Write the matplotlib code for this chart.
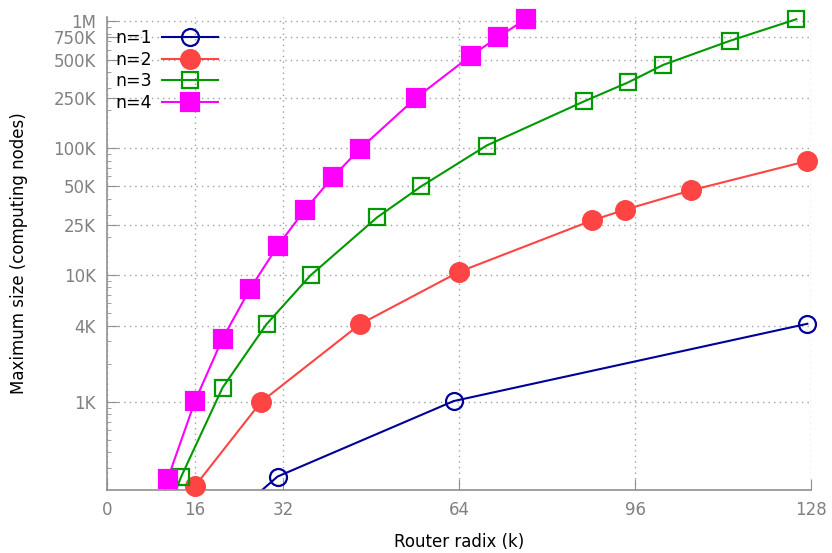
import matplotlib
matplotlib.use("Agg")
import matplotlib.pyplot as plt
from matplotlib.ticker import FixedLocator, LogLocator, NullFormatter

# radix k vs. max size; first point of n=1,3,4 lies below the visible range
k1 = [15, 31, 63, 127.3]
s1 = [64, 258, 1015, 4130]

k2 = [16, 28, 46, 64, 88.2, 94.2, 106.2, 127.3]
s2 = [217, 1000, 4100, 10600, 27000, 32800, 46600, 79300]

k3 = [5, 13.5, 21, 29, 37, 49.1, 57.1, 69, 86.7, 94.7, 101.1, 113.2, 125.3]
s3 = [30, 258, 1294, 4100, 9950, 28500, 50000, 105000, 234000, 330000,
      454000, 702000, 1040000]

k4 = [5, 11, 16, 21, 26, 31, 36, 41, 46, 56.1, 66.1, 71.1, 76.1]
s4 = [20, 245, 1015, 3150, 7780, 16900, 32800, 58900, 99100, 248000,
      535000, 752000, 1040000]

xticks = [0, 16, 32, 64, 96, 128]
yticks = [1e3, 4e3, 1e4, 2.5e4, 5e4, 1e5, 2.5e5, 5e5, 7.5e5, 1e6]
ylabels = ["1K", "4K", "10K", "25K", "50K", "100K", "250K", "500K", "750K", "1M"]

ymin, ymax = 202, 1.08e6

fig = plt.figure(figsize=(8.32, 5.53), dpi=100)
ax = fig.add_axes([0.1286, 0.1139, 0.8464, 0.8551])

series = [
    (k1, s1, "n=1", "#000099", "o", "none", 12.2),
    (k2, s2, "n=2", "#ff4444", "o", "#ff4444", 13.5),
    (k3, s3, "n=3", "#009900", "s", "none", 12.2),
    (k4, s4, "n=4", "#ff00ff", "s", "#ff00ff", 13.5),
]

for k, s, lab, col, mk, fc, ms in series:
    ax.plot(k, s, color=col, lw=1.5, zorder=2)
    vk = [a for a, b in zip(k, s) if b >= ymin]
    vs = [b for b in s if b >= ymin]
    ax.plot(vk, vs, ls="none", marker=mk, ms=ms, mfc=fc, mec=col, mew=1.6,
            clip_on=False, zorder=3)
    # legend proxy
    ax.plot([], [], color=col, lw=1.5, marker=mk, ms=ms, mfc=fc, mec=col,
            mew=1.6, label=lab)

ax.set_yscale("log")
ax.set_xlim(0, 128)
ax.set_ylim(ymin, ymax)

ax.xaxis.set_major_locator(FixedLocator(xticks))
ax.yaxis.set_major_locator(FixedLocator(yticks))
ax.set_yticklabels(ylabels)
ax.yaxis.set_minor_locator(LogLocator(base=10, subs=range(2, 10)))
ax.yaxis.set_minor_formatter(NullFormatter())

ax.grid(True, which="major", color="#a0a0a0", ls=(0, (1, 3)), lw=1)
for side in ["top", "right"]:
    ax.spines[side].set_visible(False)
for side in ["left", "bottom"]:
    ax.spines[side].set_color("#909090")
    ax.spines[side].set_linewidth(1.2)

ax.tick_params(which="major", direction="in", length=8, color="#909090",
               labelcolor="#808080", labelsize=12, pad=8)
ax.tick_params(which="minor", direction="in", length=3, color="#909090")

ax.set_xlabel("Router radix (k)", fontsize=12, labelpad=10)
ax.set_ylabel("Maximum size (computing nodes)", fontsize=12, labelpad=18)

ax.legend(loc="upper left", bbox_to_anchor=(0.002, 0.989), frameon=False,
          markerfirst=False, fontsize=12.5, handlelength=3.2,
          labelspacing=0.2, handletextpad=0.6, borderaxespad=0.0)

fig.savefig("out.png", dpi=100)
